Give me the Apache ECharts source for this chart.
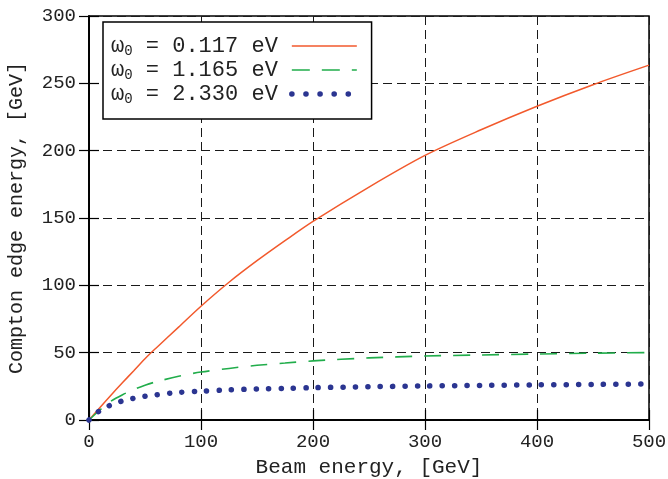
<!DOCTYPE html>
<html>
<head>
<meta charset="utf-8">
<script src="https://cdn.jsdelivr.net/npm/echarts@6/dist/echarts.min.js"></script>
<style>
html,body{margin:0;padding:0;background:#fff;}
#c{width:668px;height:479px;}
</style>
</head>
<body>
<div id="c"></div>
<script>
// Beam energy [GeV]
var beamEnergy = [0, 10, 20, 30, 40, 50, 60, 80, 100, 125, 150, 175, 200, 250, 300, 350, 400, 450, 500];
// Compton edge energy [GeV]
var edge0117 = [0, 9.5, 18.8, 27.8, 36.6, 45.5, 53.5, 69, 84.5, 102.3, 118.3, 133.2, 147.5, 173, 196.5, 215.5, 233, 249, 263.5];
var edge1165 = [0, 7.6, 14.2, 18.8, 22.6, 25.8, 28.4, 32.5, 35.6, 38.3, 40.6, 42.3, 43.9, 46.1, 47.5, 48.3, 49.0, 49.6, 50.1];
var edge2330 = [0, 7.2, 11.3, 14.2, 16.1, 17.6, 18.7, 20.5, 21.4, 22.4, 23.0, 23.5, 24.0, 24.7, 25.3, 25.7, 26.1, 26.4, 26.7];
var seriesNames = ['0.117', '1.165', '2.330'];
var xTicks = {min: 0, max: 500, step: 100};
var yTicks = {min: 0, max: 300, step: 50};

function pairs(ys) { return beamEnergy.map(function (x, i) { return [x, ys[i]]; }); }

var FONT = '"Liberation Mono", "DejaVu Sans Mono", monospace';
var RED = '#f2592c', GREEN = '#21ad4b', BLUE = '#2b3591';
var chart = echarts.init(document.getElementById('c'), null, {renderer: 'canvas'});

var axisCommon = {
  type: 'value',
  axisLine: {show: true, lineStyle: {color: '#000', width: 1.5}},
  axisTick: {show: true, inside: true, length: 10, lineStyle: {color: '#000', width: 1.2}},
  splitLine: {show: true, lineStyle: {color: '#1a1a1a', width: 1, type: [9, 5]}},
  axisLabel: {color: '#222', fontFamily: FONT, fontSize: 19},
  nameTextStyle: {color: '#222', fontFamily: FONT, fontSize: 20}
};

chart.setOption({
  animation: false,
  backgroundColor: '#fff',
  grid: {left: 89, right: 19, top: 16, bottom: 59, outerBoundsMode: 'none', containLabel: false,
         show: true, borderColor: '#000', borderWidth: 1.5, backgroundColor: 'transparent'},
  legend: {
    left: 103, top: 22,
    orient: 'vertical',
    align: 'right',
    backgroundColor: '#fff',
    borderColor: '#000', borderWidth: 1.5, borderRadius: 0,
    padding: [12, 12, 13, 8],
    itemWidth: 65, itemHeight: 10, itemGap: 0,
    itemStyle: {opacity: 0},
    data: [
      {name: seriesNames[0], lineStyle: {color: RED, width: 1.5}},
      {name: seriesNames[1], lineStyle: {color: GREEN, width: 1.6, type: [18, 12]}},
      {name: seriesNames[2], lineStyle: {color: BLUE, width: 5.5, type: [0.1, 14], cap: 'round'}}
    ],
    formatter: function (name) { return '{a|ω}{s|0}{a| = ' + name + ' eV}{g|}'; },
    textStyle: {
      fontFamily: FONT, fontSize: 22, color: '#222', lineHeight: 22,
      rich: {
        a: {fontFamily: FONT, fontSize: 22, color: '#222', lineHeight: 22},
        s: {fontFamily: FONT, fontSize: 14, color: '#222', lineHeight: 22, padding: [10, 0, 0, 0]},
        g: {width: 9}
      }
    }
  },
  xAxis: [Object.assign({}, axisCommon, {
    min: xTicks.min, max: xTicks.max, interval: xTicks.step,
    name: 'Beam energy, [GeV]', nameLocation: 'middle', nameGap: 37,
    nameTextStyle: {color: '#222', fontFamily: FONT, fontSize: 21},
    axisLabel: Object.assign({}, axisCommon.axisLabel, {margin: 12})
  }), Object.assign({}, axisCommon, {
    min: xTicks.min, max: xTicks.max, interval: xTicks.step, position: 'top',
    axisLabel: {show: false}, splitLine: {show: false}
  })],
  yAxis: [Object.assign({}, axisCommon, {
    min: yTicks.min, max: yTicks.max, interval: yTicks.step,
    name: 'Compton edge energy, [GeV]', nameLocation: 'middle', nameGap: 62,
    axisLabel: Object.assign({}, axisCommon.axisLabel, {margin: 13})
  }), Object.assign({}, axisCommon, {
    min: yTicks.min, max: yTicks.max, interval: yTicks.step, position: 'right',
    axisLabel: {show: false}, splitLine: {show: false}
  })],
  series: [
    {name: seriesNames[0], type: 'line', data: pairs(edge0117), smooth: 0.3, symbol: 'none', clip: false, z: 3,
     color: RED, lineStyle: {color: RED, width: 1.5}},
    {name: seriesNames[1], type: 'line', data: pairs(edge1165), smooth: 0.3, symbol: 'none', clip: false, z: 3,
     color: GREEN, lineStyle: {color: GREEN, width: 1.6, type: [17, 12]}},
    {name: seriesNames[2], type: 'line', data: pairs(edge2330), smooth: 0.3, symbol: 'none', clip: false, z: 3,
     color: BLUE, lineStyle: {color: BLUE, width: 5.5, type: [0.1, 12.3], cap: 'round'}}
  ]
});
</script>
</body>
</html>
